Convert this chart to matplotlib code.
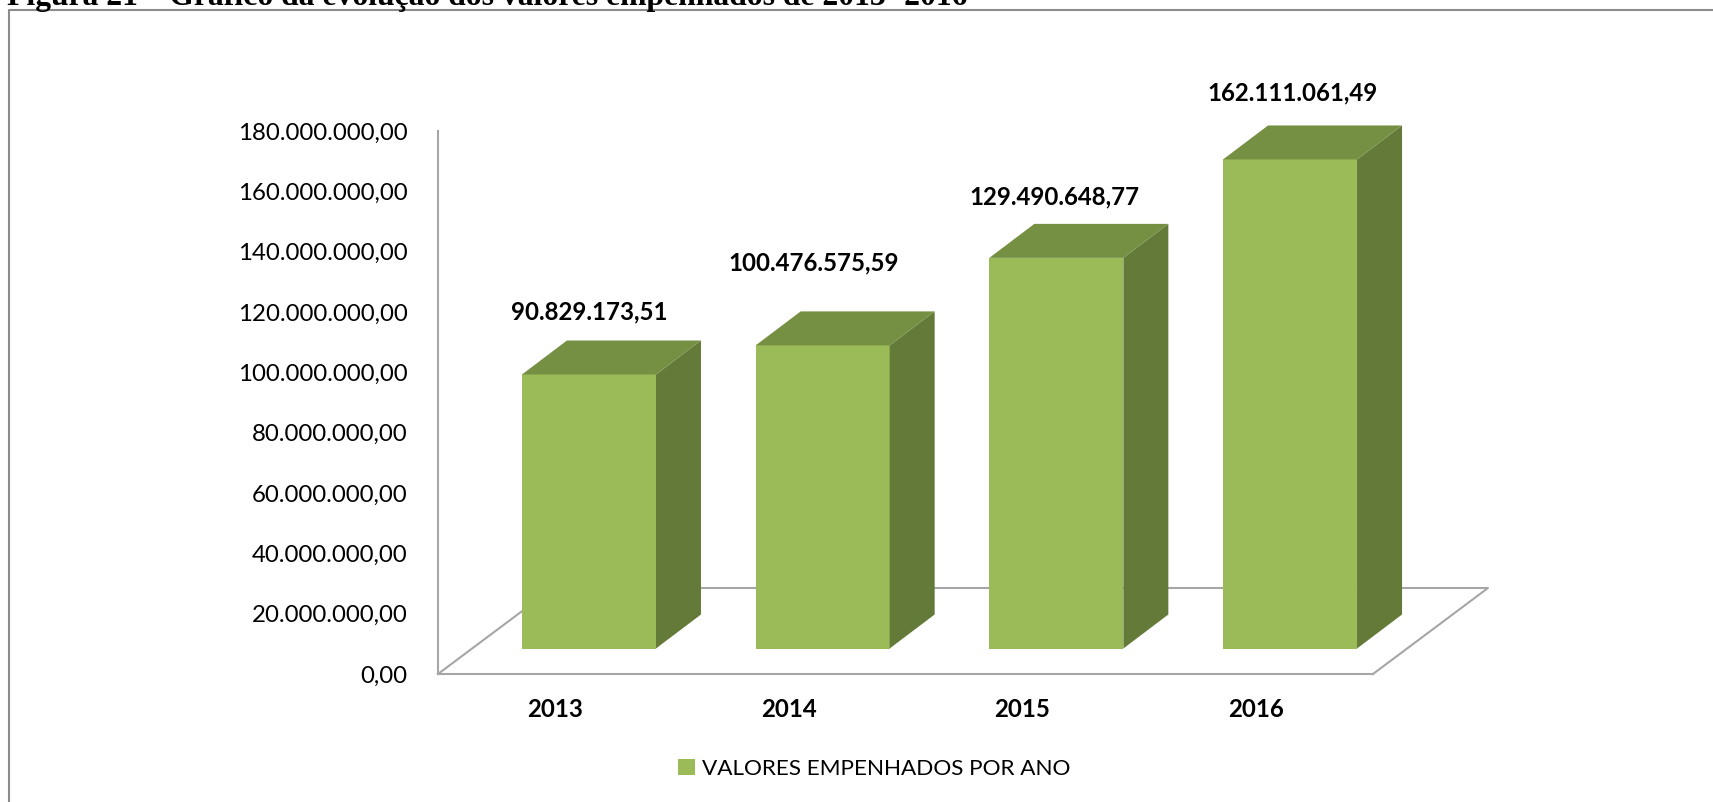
import matplotlib
matplotlib.use('Agg')
from matplotlib import pyplot as plt
from matplotlib.patches import Polygon

W, H = 1713, 802

years = ['2013', '2014', '2015', '2016']
valores = [90829173.51, 100476575.59, 129490648.77, 162111061.49]
rotulos = ['90.829.173,51', '100.476.575,59', '129.490.648,77', '162.111.061,49']
ticks = [0, 20e6, 40e6, 60e6, 80e6, 100e6, 120e6, 140e6, 160e6, 180e6]
tick_labels = ['0,00', '20.000.000,00', '40.000.000,00', '60.000.000,00', '80.000.000,00',
               '100.000.000,00', '120.000.000,00', '140.000.000,00', '160.000.000,00',
               '180.000.000,00']
titulo = 'Figura 21 – Gráfico da evolução dos valores empenhados de 2013- 2016'
legenda = 'VALORES EMPENHADOS POR ANO'

# hand placed data labels, px from the front face centre / above the top face
rot_dx = [0, -9, -2, 2]
rot_dy = [29, 48, 27, 33]

plt.rcParams['font.family'] = ['Lato', 'DejaVu Sans']

FRONT = '#9BBB59'
TOP = '#769043'
SIDE = '#647A38'
GRID = '#A6A6A6'

fig = plt.figure(figsize=(W / 100, H / 100), dpi=100)

# axes box in pixels: left 438, right 1373, y=0 at 674, 180M at 131
ax = fig.add_axes([438 / W, 1 - 674 / H, (1373 - 438) / W, (674 - 131) / H])
ax.set_xlim(-0.646, 3.355)
ax.set_ylim(0, 180e6)
ax.patch.set_alpha(0)

px_x = 4.001 / 935
px_y = 180e6 / 543

# depth of the fake 3d
bar_dx, bar_dy = 45 * px_x, 34 * px_y
floor_dx, floor_dy = 115 * px_x, 86 * px_y
lift = 25.5 * px_y
bar_w = 134 * px_x

for s in ['top', 'right']:
    ax.spines[s].set_visible(False)
for s in ['left', 'bottom']:
    ax.spines[s].set_color(GRID)
    ax.spines[s].set_linewidth(1.5)

# floor
xl, xr = ax.get_xlim()
ax.plot([xl, xl + floor_dx, xr + floor_dx, xr], [0, floor_dy, floor_dy, 0],
        color=GRID, lw=1.5, clip_on=False, zorder=1)

for i, v in enumerate(valores):
    l, r = i - bar_w / 2, i + bar_w / 2
    t = v + lift
    ax.bar(i, v, bottom=lift, width=bar_w, color=FRONT, zorder=3)
    ax.add_patch(Polygon([(r, lift), (r + bar_dx, lift + bar_dy), (r + bar_dx, t + bar_dy), (r, t)],
                         color=SIDE, lw=0, zorder=3, clip_on=False))
    ax.add_patch(Polygon([(l, t), (l + bar_dx, t + bar_dy), (r + bar_dx, t + bar_dy), (r, t)],
                         color=TOP, lw=0, zorder=3, clip_on=False))
    ax.text(i + rot_dx[i] * px_x, t + bar_dy + rot_dy[i] * px_y, rotulos[i], ha='center', va='center',
            fontsize=17.3, fontweight='bold', color='black', clip_on=False)

# year labels sit left of the bars in the original
ax.set_xticks([i - 34 * px_x for i in range(4)], years, fontsize=17.3, fontweight='bold')
ax.set_yticks(ticks, tick_labels, fontsize=17.3)
ax.tick_params(axis='both', length=0)
ax.tick_params(axis='y', pad=22)
ax.tick_params(axis='x', pad=17)

# legend
h, = ax.bar(0, 0, color=FRONT)
fig.legend([h], [legenda], loc='center', bbox_to_anchor=(874 / W, 1 - 769 / H), frameon=False,
           fontsize=16.2, handlelength=0.75, handleheight=0.75, handletextpad=0.3, labelspacing=0)

# page frame and cut off caption
fig.add_artist(plt.Line2D([9 / W, 9 / W, 1], [0, 1 - 10 / H, 1 - 10 / H], color='#8C8C8C', lw=1.5))
fig.text(7 / W, 1 - 4.5 / H, titulo, family='Liberation Serif', fontweight='bold', fontsize=22.8,
         ha='left', va='baseline', color='black')

fig.savefig('out.png', dpi=100)
